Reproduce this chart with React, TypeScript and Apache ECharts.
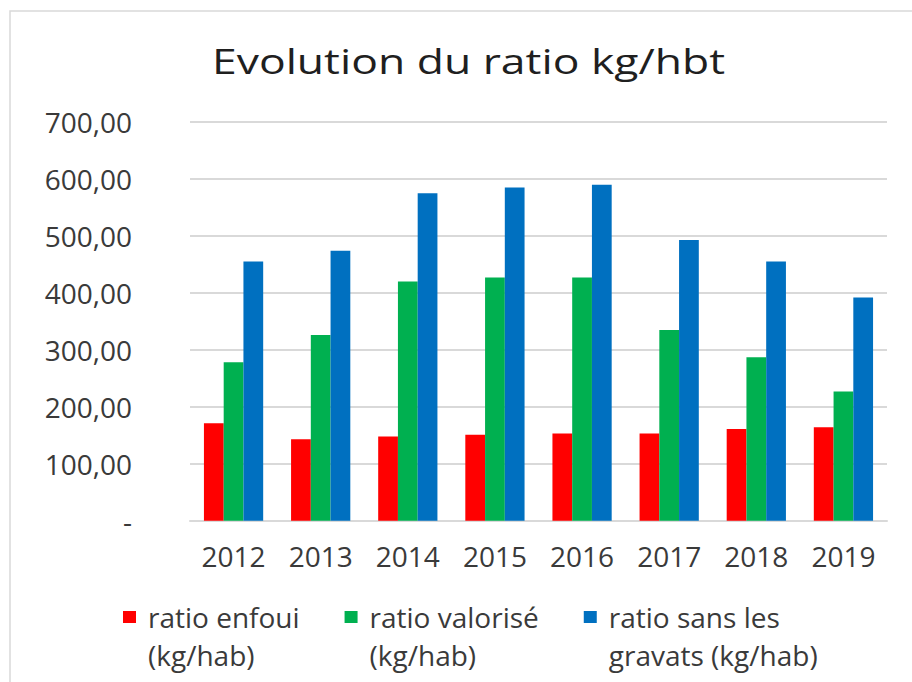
import React, { useEffect, useRef } from "react";
import * as echarts from "echarts";

const years = ["2012", "2013", "2014", "2015", "2016", "2017", "2018", "2019"];
const enfoui = [171, 143, 148, 151, 153, 153, 161, 164];
const valorise = [278, 326, 420, 427, 427, 335, 287, 227];
const sansGravats = [455, 474, 575, 585, 590, 493, 455, 392];

const seriesNames = [
  "ratio enfoui (kg/hab)",
  "ratio valorisé (kg/hab)",
  "ratio sans les gravats (kg/hab)",
];
const legendLabels = [
  "ratio enfoui\n(kg/hab)",
  "ratio valorisé\n(kg/hab)",
  "ratio sans les\ngravats (kg/hab)",
];
const colors = ["#FF0000", "#00B050", "#0070C0"];
const titleText = "Evolution du ratio kg/hbt";

const FONT = "'Open Sans', 'Noto Sans', sans-serif";

export default function App() {
  const ref = useRef<HTMLDivElement>(null);

  useEffect(() => {
    if (!ref.current) return;
    const chart = echarts.init(ref.current, null, { renderer: "svg" });
    const dataSets = [enfoui, valorise, sansGravats];
    chart.setOption({
      animation: false,
      backgroundColor: "#ffffff",
      graphic: [
        {
          type: "rect",
          shape: { x: 10, y: 11, width: 920, height: 700 },
          style: { fill: "none", stroke: "#d9d9d9", lineWidth: 1.5 },
          silent: true,
        },
        {
          type: "text",
          x: 468.5,
          y: 60,
          scaleX: 1.27,
          style: {
            text: titleText,
            fontFamily: FONT,
            fontSize: 35,
            fill: "#1f1f1f",
            align: "center",
            verticalAlign: "middle",
          },
        },
      ],
      grid: { left: 190, right: 25, top: 122, bottom: 161.3 },
      legend: {
        left: 123,
        top: 598,
        padding: 0,
        itemGap: 45,
        itemWidth: 20,
        itemHeight: 50,
        icon: "path://M0 0H13V12H0Z M19.95 49.95H20V50H19.95Z",
        itemStyle: { borderWidth: 0 },
        data: seriesNames,
        textStyle: {
          fontFamily: FONT,
          fontSize: 28,
          lineHeight: 38,
          color: "#3a3a3a",
        },
        formatter: (name: string) => legendLabels[seriesNames.indexOf(name)],
      },
      xAxis: {
        type: "category",
        data: years,
        axisLine: { show: true, lineStyle: { color: "#d9d9d9", width: 2 } },
        axisTick: { show: false },
        axisLabel: {
          margin: 21,
          fontFamily: FONT,
          fontSize: 28,
          color: "#3a3a3a",
        },
      },
      yAxis: {
        type: "value",
        min: 0,
        max: 700,
        interval: 100,
        axisLine: { show: false },
        axisTick: { show: false },
        splitLine: { lineStyle: { color: "#d9d9d9", width: 2 } },
        axisLabel: {
          margin: 58,
          fontFamily: FONT,
          fontSize: 28,
          color: "#3a3a3a",
          formatter: (v: number) =>
            v === 0 ? "-" : v.toFixed(2).replace(".", ","),
        },
      },
      series: seriesNames.map((name, i) => ({
        name,
        type: "bar",
        data: dataSets[i],
        itemStyle: { color: colors[i] },
        barGap: "0%",
        barCategoryGap: "32%",
      })),
    });
    return () => chart.dispose();
  }, []);

  return (
    <div
      ref={ref}
      style={{ position: "fixed", left: 0, top: 0, width: 912, height: 682 }}
    />
  );
}
